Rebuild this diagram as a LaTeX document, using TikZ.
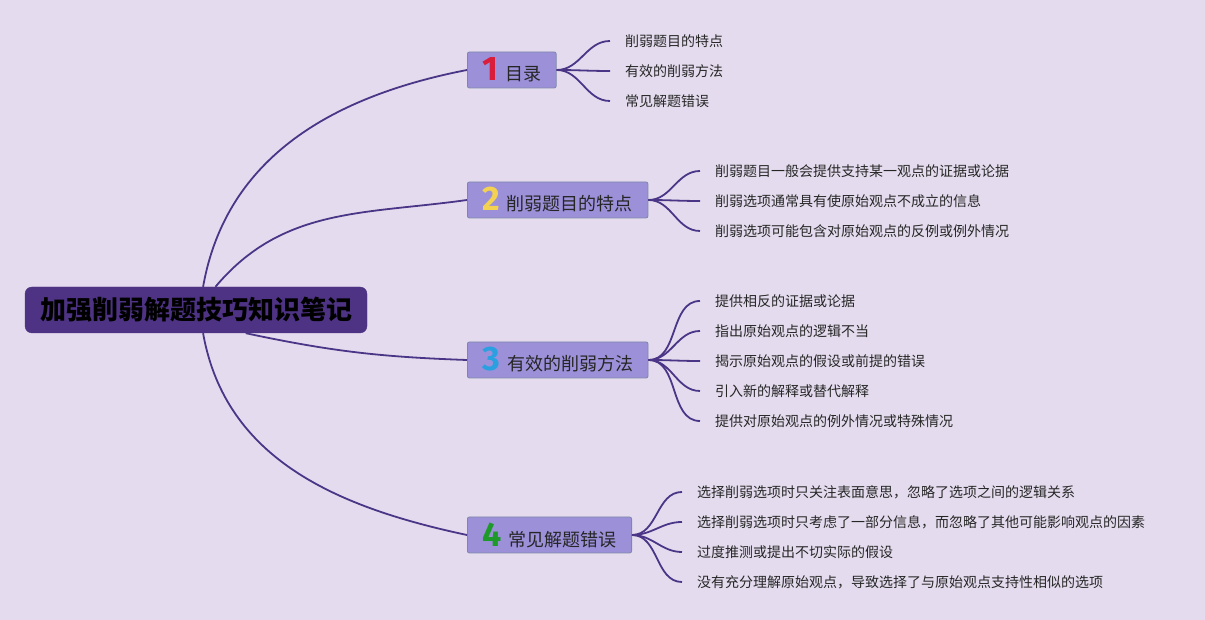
\documentclass[tikz,border=0pt]{standalone}
\usepackage{fontspec}
\setmainfont{Noto Sans CJK SC}
\newfontfamily\numfont{Fira Sans}
\definecolor{bgpurple}{HTML}{E4DCEE}
\definecolor{mainpurple}{HTML}{4E3384}
\definecolor{topicfill}{HTML}{9C90D9}
\definecolor{topicedge}{HTML}{7D88A8}
\definecolor{linkpurple}{HTML}{4A3587}
\definecolor{numred}{HTML}{D81E3A}
\definecolor{numyellow}{HTML}{F2D250}
\definecolor{numblue}{HTML}{2AA0E0}
\definecolor{numgreen}{HTML}{1E9A2A}
\newcommand{\secnum}[2]{{\numfont\fontsize{34}{34}\selectfont\bfseries\color{#1}#2}\hspace{7pt}}
\tikzstyle{mainbox} = [rectangle, rounded corners=7pt, minimum width=342pt, minimum height=46pt, fill=mainpurple, draw=mainpurple, text=black, font=\fontsize{26}{28}\selectfont\bfseries]
\tikzstyle{topic} = [rectangle, rounded corners=2pt, anchor=west, minimum height=36pt, inner xsep=15pt, inner ysep=0pt, fill=topicfill, draw=topicedge, line width=0.8pt, text=black!85, font=\fontsize{18}{20}\selectfont]
\tikzstyle{detail} = [anchor=west, inner xsep=15pt, inner ysep=0pt, text=black!85, font=\fontsize{14}{16}\selectfont]
\tikzstyle{link} = [draw=linkpurple, line width=1.8pt]
\begin{document}
\begin{tikzpicture}[x=1pt, y=1pt]
    \fill[bgpurple] (0,0) rectangle (1205,620);
    \useasboundingbox (0,0) rectangle (1205,620);

    \node (main) [mainbox] at (196,310) {加强削弱解题技巧知识笔记};

    \node (sec1) [topic] at (467,550) {\secnum{numred}{1}目录};
    \node (sec2) [topic] at (467,420) {\secnum{numyellow}{2}削弱题目的特点};
    \node (sec3) [topic] at (467,260) {\secnum{numblue}{3}有效的削弱方法};
    \node (sec4) [topic] at (467,85) {\secnum{numgreen}{4}常见解题错误};

    \node (sec1a) [detail] at (610,579) {削弱题目的特点};
    \node (sec1b) [detail] at (610,549) {有效的削弱方法};
    \node (sec1c) [detail] at (610,519) {常见解题错误};

    \node (sec2a) [detail] at (700,449) {削弱题目一般会提供支持某一观点的证据或论据};
    \node (sec2b) [detail] at (700,419) {削弱选项通常具有使原始观点不成立的信息};
    \node (sec2c) [detail] at (700,389) {削弱选项可能包含对原始观点的反例或例外情况};

    \node (sec3a) [detail] at (700,319) {提供相反的证据或论据};
    \node (sec3b) [detail] at (700,289) {指出原始观点的逻辑不当};
    \node (sec3c) [detail] at (700,259) {揭示原始观点的假设或前提的错误};
    \node (sec3d) [detail] at (700,229) {引入新的解释或替代解释};
    \node (sec3e) [detail] at (700,199) {提供对原始观点的例外情况或特殊情况};

    \node (sec4a) [detail] at (682,128) {选择削弱选项时只关注表面意思，忽略了选项之间的逻辑关系};
    \node (sec4b) [detail] at (682,98) {选择削弱选项时只考虑了一部分信息，而忽略了其他可能影响观点的因素};
    \node (sec4c) [detail] at (682,68) {过度推测或提出不切实际的假设};
    \node (sec4d) [detail] at (682,38) {没有充分理解原始观点，导致选择了与原始观点支持性相似的选项};

    \draw [link] (main.73) to[out=80, in=191] (sec1.west);
    \draw [link] (main.50) to[out=50, in=188] (sec2.west);
    \draw [link] (main.-25) to[out=-12, in=178] (sec3.west);
    \draw [link] (main.-73) to[out=-80, in=168] (sec4.west);

    \foreach \leaf in {sec1a,sec1b,sec1c}
        \draw [link] (sec1.east) to[out=0, in=180] (\leaf.west);
    \foreach \leaf in {sec2a,sec2b,sec2c}
        \draw [link] (sec2.east) to[out=0, in=180] (\leaf.west);
    \foreach \leaf in {sec3a,sec3b,sec3c,sec3d,sec3e}
        \draw [link] (sec3.east) to[out=0, in=180] (\leaf.west);
    \foreach \leaf in {sec4a,sec4b,sec4c,sec4d}
        \draw [link] (sec4.east) to[out=0, in=180] (\leaf.west);
\end{tikzpicture}
\end{document}
